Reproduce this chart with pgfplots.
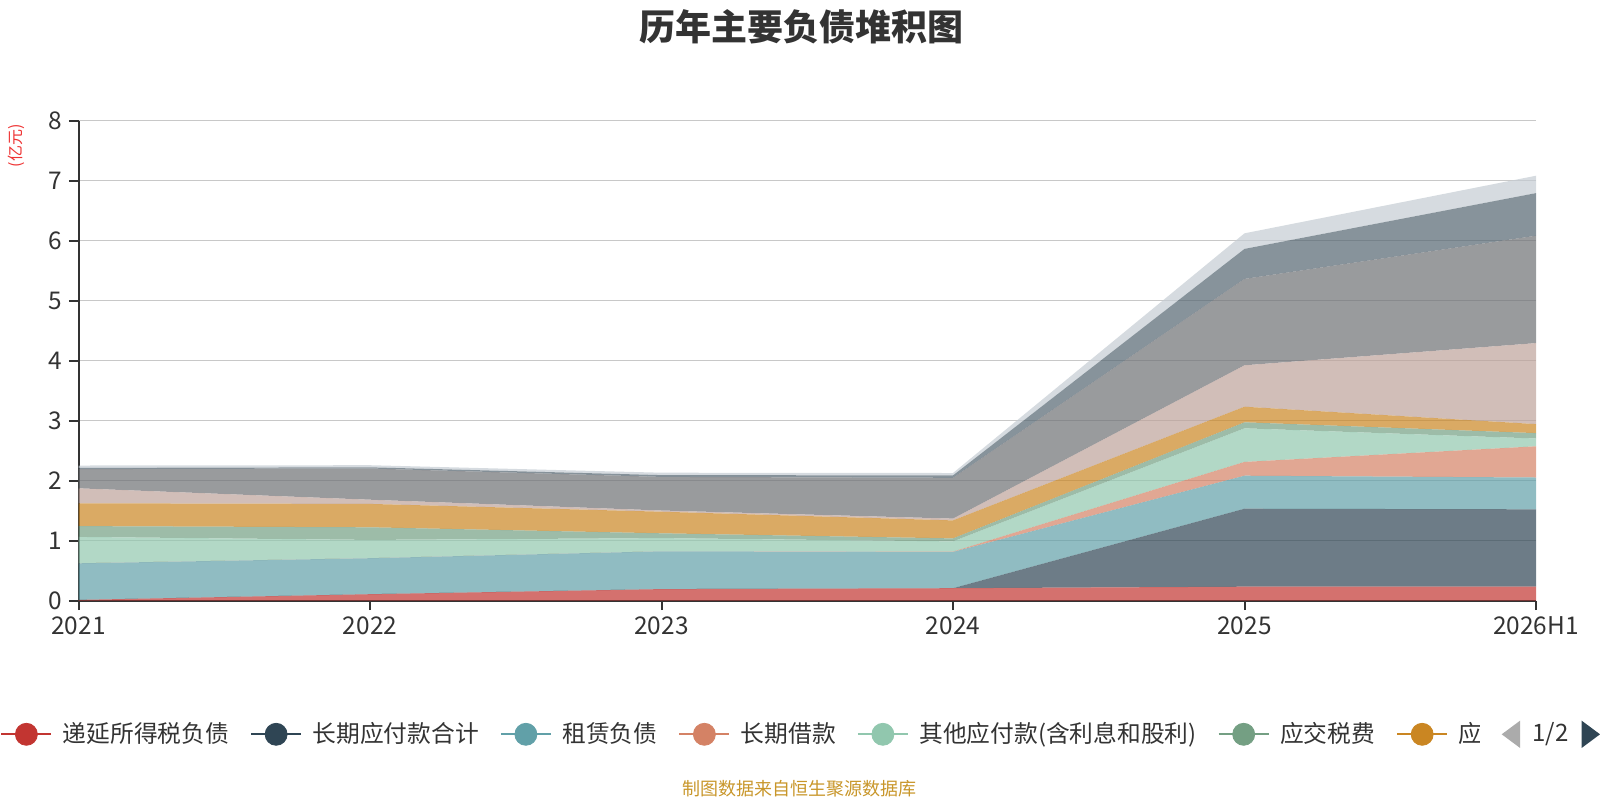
\documentclass[border=0pt]{standalone}
\usepackage{fontspec}
\setmainfont{Noto Sans CJK SC}
\usepackage{pgfplots}
\pgfplotsset{compat=1.18}
\usepackage{pgfplotstable}

\definecolor{c1}{HTML}{C23531}
\definecolor{c2}{HTML}{2F4554}
\definecolor{c3}{HTML}{61A0A8}
\definecolor{c4}{HTML}{D48265}
\definecolor{c5}{HTML}{91C7AE}
\definecolor{c6}{HTML}{749F83}
\definecolor{c7}{HTML}{CA8622}
\definecolor{c8}{HTML}{BDA29A}
\definecolor{c9}{HTML}{6E7074}
\definecolor{c10}{HTML}{546570}
\definecolor{c11}{HTML}{C4CCD3}
\definecolor{axiscol}{HTML}{333333}
\definecolor{gridcol}{HTML}{C8C8C8}
\definecolor{textcol}{HTML}{333333}
\definecolor{srccol}{HTML}{C8962A}
\definecolor{unitcol}{HTML}{EE3333}

\pgfplotstableread{
x red dark teal salmon lgreen green orange beige gray bluegray light
0 0.01  0    0.61  0     0.44  0.18 0.38 0.25 0.32 0.02 0.04
1 0.105 0    0.60  0     0.305 0.21 0.39 0.07 0.52 0.02 0.035
2 0.19  0    0.63  0     0.22  0.08 0.36 0.02 0.56 0.03 0.04
3 0.205 0    0.605 0.005 0.17  0.05 0.30 0.03 0.68 0.04 0.04
4 0.23  1.30 0.55  0.23  0.56  0.10 0.26 0.69 1.44 0.50 0.26
5 0.23  1.29 0.53  0.52  0.13  0.09 0.15 1.35 1.79 0.71 0.29
}\datatable

\pgfplotsset{myleg/.style={legend image code/.code={%
  \draw[line width=1pt,#1] (0pt,0pt)--(25pt,0pt);
  \fill[#1] (12.5pt,0pt) circle (5.5pt);}}}

\begin{document}
\begin{tikzpicture}[x=1pt,y=1pt]
\path[use as bounding box] (0,0) rectangle (800,400);
\begin{axis}[
  at={(39.25pt,99.75pt)}, anchor=south west,
  scale only axis, width=728.75pt, height=240pt,
  xmin=0, xmax=5, ymin=0, ymax=8,
  ytick={0,1,...,8}, xtick={0,1,...,5},
  xticklabels={2021,2022,2023,2024,2025,2026H1},
  axis x line=bottom, axis y line=left,
  axis line style={-, draw=axiscol, line width=1pt},
  ymajorgrids, grid style={draw=gridcol, line width=0.75pt},
  tick align=outside, major tick length=4.75pt,
  tick style={draw=axiscol, line width=1pt},
  tick label style={font=\fontsize{12.2}{14}\selectfont, text=textcol},
  /pgf/number format/assume math mode=true,
  stack plots=y,
  legend columns=-1,
  legend style={at={(-0.05386,-0.27875)}, anchor=west, draw=none, fill=none,
    inner sep=0pt, font=\fontsize{11.875}{13}\selectfont, text=textcol,
    nodes={inner sep=0pt},
    /tikz/every odd column/.append style={column sep=5.25pt},
    /tikz/every even column/.append style={column sep=10.5pt}},
]
\addplot[fill=c1, fill opacity=0.7, draw=none, forget plot] table[x=x,y=red]{\datatable} \closedcycle;
\addplot[fill=c2, fill opacity=0.7, draw=none, forget plot] table[x=x,y=dark]{\datatable} \closedcycle;
\addplot[fill=c3, fill opacity=0.7, draw=none, forget plot] table[x=x,y=teal]{\datatable} \closedcycle;
\addplot[fill=c4, fill opacity=0.7, draw=none, forget plot] table[x=x,y=salmon]{\datatable} \closedcycle;
\addplot[fill=c5, fill opacity=0.7, draw=none, forget plot] table[x=x,y=lgreen]{\datatable} \closedcycle;
\addplot[fill=c6, fill opacity=0.7, draw=none, forget plot] table[x=x,y=green]{\datatable} \closedcycle;
\addplot[fill=c7, fill opacity=0.7, draw=none, forget plot] table[x=x,y=orange]{\datatable} \closedcycle;
\addplot[fill=c8, fill opacity=0.7, draw=none, forget plot] table[x=x,y=beige]{\datatable} \closedcycle;
\addplot[fill=c9, fill opacity=0.7, draw=none, forget plot] table[x=x,y=gray]{\datatable} \closedcycle;
\addplot[fill=c10, fill opacity=0.7, draw=none, forget plot] table[x=x,y=bluegray]{\datatable} \closedcycle;
\addplot[fill=c11, fill opacity=0.7, draw=none, forget plot] table[x=x,y=light]{\datatable} \closedcycle;

\addlegendimage{myleg=c1} \addlegendentry{递延所得税负债}
\addlegendimage{myleg=c2} \addlegendentry{长期应付款合计}
\addlegendimage{myleg=c3} \addlegendentry{租赁负债}
\addlegendimage{myleg=c4} \addlegendentry{长期借款}
\addlegendimage{myleg=c5} \addlegendentry{其他应付款(含利息和股利)}
\addlegendimage{myleg=c6} \addlegendentry{应交税费}
\addlegendimage{myleg=c7} \addlegendentry{应付}
\end{axis}
% clip the truncated last legend entry like the paged legend does
\fill[white] (740,20) rectangle (800,46);
\node[font=\fontsize{18}{21}\selectfont\bfseries, text=textcol] at (400.5,386.75) {历年主要负债堆积图};
\node[font=\fontsize{8}{9}\selectfont, text=unitcol, rotate=90] at (8.35,327) {(亿元)};
\node[font=\fontsize{9}{10}\selectfont, text=srccol] at (399.5,5.6) {制图数据来自恒生聚源数据库};
\fill[black!33] (750.85,32.85) -- (760,39.65) -- (760,26.05) -- cycle;
\node[font=\fontsize{12}{14}\selectfont, text=textcol] at (775.3,32.85) {1/2};
\fill[c2] (790.85,39.65) -- (790.85,26.05) -- (800,32.85) -- cycle;
\end{tikzpicture}
\end{document}
